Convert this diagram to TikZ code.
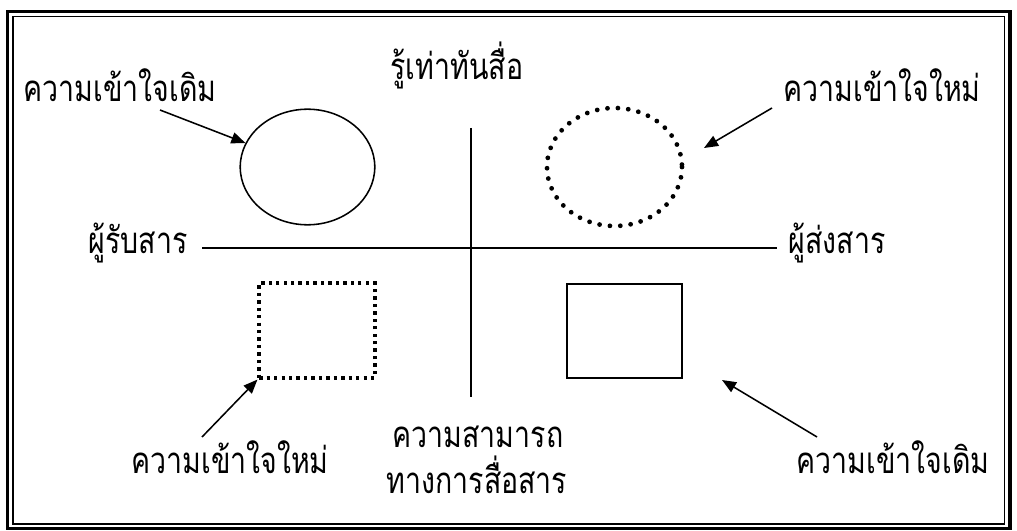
\documentclass[tikz,border=0pt]{standalone}
\usepackage{fontspec}
\newfontfamily\thaifont[Script=Thai,FakeStretch=0.78]{Loma}
\usetikzlibrary{arrows.meta,shapes.geometric}
\tikzset{
    thaitext/.style={font=\thaifont\fontsize{26}{29}\selectfont, inner sep=0pt, anchor=base},
    pointer/.style={-{Triangle[length=10pt,width=8pt]}, line width=1.1pt},
    axisline/.style={line width=1.1pt},
    shapebox/.style={draw, line width=1.1pt, inner sep=0pt}
}
\begin{document}
\begin{tikzpicture}[x=0.025cm,y=-0.025cm]
    \useasboundingbox (0,0) rectangle (1017,531);
    % Frame
        \draw[line width=2.2pt] (7.5,11.5) rectangle (1010,528.5);
        \draw[line width=1.1pt] (13,16.5) rectangle (1004.5,524);
    % Axes
        \coordinate (west) at (202,248);
        \coordinate (east) at (777,248);
        \coordinate (north) at (471,128);
        \coordinate (south) at (471,397);
        \draw[axisline] (west) -- (east);
        \draw[axisline] (north) -- (south);
    % Shapes
        \node[shapebox, ellipse, minimum width=95.7pt, minimum height=82.2pt] (oldidea) at (307.5,167) {};
        \node[ellipse, inner sep=0pt, minimum width=95.7pt, minimum height=83.6pt] (newidea) at (614.5,167) {};
        \draw[line width=3.4pt, line cap=round, dash pattern=on 0pt off 7.4pt]
            (newidea.center) ellipse [x radius=67.5, y radius=59];
        \node[draw, inner sep=0pt, line width=2.5pt, dash pattern=on 2.4pt off 2.9pt,
              minimum width=82.2pt, minimum height=67.3pt] (newbox) at (317,330.5) {};
        \node[shapebox, rectangle, minimum width=81.5pt, minimum height=66.6pt] (oldbox) at (624.5,331) {};
    % Labels
        \node[thaitext] (media) at (457,80) {รู้เท่าทันสื่อ};
        \node[thaitext] (receiver) at (138,253) {ผู้รับสาร};
        \node[thaitext] (sender) at (837,253) {ผู้ส่งสาร};
        \node[thaitext] (skill1) at (478,447) {ความสามารถ};
        \node[thaitext] (skill2) at (477,493) {ทางการสื่อสาร};
        \node[thaitext] (oldtop) at (120,102) {ความเข้าใจเดิม};
        \node[thaitext] (newtop) at (882,102) {ความเข้าใจใหม่};
        \node[thaitext] (newbottom) at (230,473) {ความเข้าใจใหม่};
        \node[thaitext] (oldbottom) at (893,473) {ความเข้าใจเดิม};
    % Pointers
        \coordinate (oldtoptail) at (160,110);
        \coordinate (newtoptail) at (772,108);
        \coordinate (newtoptip) at (704,148);
        \coordinate (newbottomtail) at (202,437);
        \coordinate (oldbottomtail) at (817,437);
        \coordinate (oldbottomtip) at (722,380);
        \draw[pointer] (oldtoptail) -- (oldidea);
        \draw[pointer] (newtoptail) -- (newtoptip);
        \draw[pointer] (newbottomtail) -- (newbox.south west);
        \draw[pointer] (oldbottomtail) -- (oldbottomtip);
\end{tikzpicture}
\end{document}
